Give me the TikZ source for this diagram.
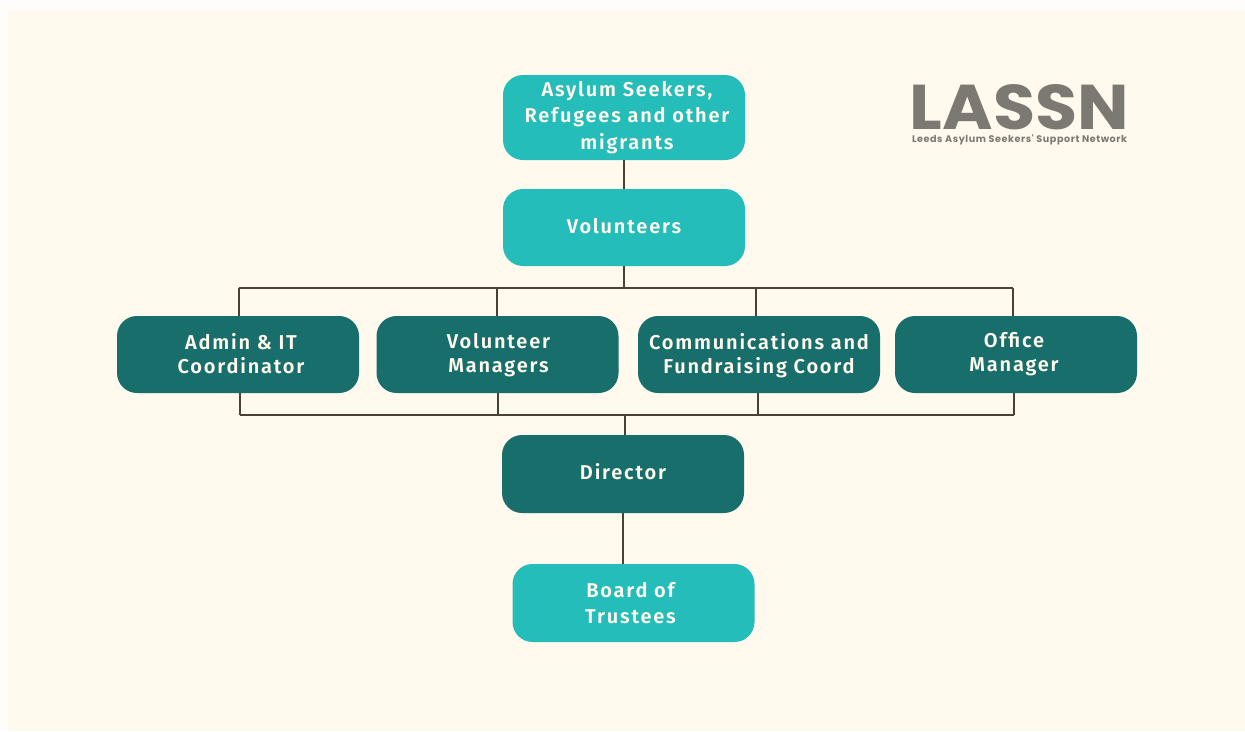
\documentclass[tikz,border=0pt]{standalone}
\usepackage{fontspec}
\usepackage{graphicx}
\setmainfont[LetterSpace=9,BoldFont={Fira Sans SemiBold}]{Fira Sans}
\newfontfamily\logofont{Poppins}
\definecolor{cream}{HTML}{FFF9EE}
\definecolor{outer}{HTML}{FEFDFB}
\definecolor{light}{HTML}{25BDB9}
\definecolor{dark}{HTML}{176E6B}
\definecolor{linec}{HTML}{4A4038}
\definecolor{logoc}{HTML}{7B7971}
% #1 = shift right, #2 = shift up, #3 = lines
\newcommand{\boxtext}[3]{\raisebox{#2}[\height][\depth]{\kern\dimexpr 2\dimexpr #1\relax\relax\begin{tabular}{@{}c@{}}#3\end{tabular}}}
\tikzset{
  x=1pt,y=-1pt,
  box/.style={rounded corners=20pt,minimum width=242pt,align=center,text=cream,inner sep=0pt},
  lightbox/.style={box,fill=light,font=\fontsize{20}{26.5}\selectfont\bfseries},
  darkbox/.style={box,fill=dark,font=\fontsize{20}{24}\selectfont\bfseries},
  link/.style={draw=linec,line width=2pt},
}
\begin{document}
\begin{tikzpicture}
\useasboundingbox (0,0) rectangle (1245,731);
\fill[outer] (0,0) rectangle (1245,731);
\fill[cream] (8,11) rectangle (1245,731);
% nodes
\node[lightbox,minimum height=85pt] (asylum) at (624,117.5) {\boxtext{3pt}{0pt}{Asylum Seekers,\\Refugees and other\\migrants}};
\node[lightbox,minimum height=77pt] (vol) at (624,227.5) {\boxtext{0pt}{-1pt}{Volunteers}};
\node[darkbox,minimum height=77pt] (admin) at (238,354.5) {\boxtext{3pt}{-2pt}{Admin \& IT\\Coordinator}};
\node[darkbox,minimum height=77pt] (mgr) at (497.5,354.5) {\boxtext{1pt}{-1pt}{Volunteer\\Managers}};
\node[darkbox,minimum height=77pt] (comm) at (759,354.5) {\boxtext{0pt}{-2pt}{Communications and\\Fundraising Coord}};
\node[darkbox,minimum height=77pt] (office) at (1016,354.5) {\boxtext{-2pt}{-0.5pt}{Office\\Manager}};
\node[darkbox,minimum height=78pt] (dir) at (623,474) {\boxtext{0pt}{-1pt}{Director}};
\node[lightbox,minimum height=78pt] (board) at (633.5,603) {\boxtext{-3pt}{-2pt}{Board of\\Trustees}};
% connector junctions
\coordinate (topbus) at (624,288);
\coordinate (t1) at (239,288);
\coordinate (t2) at (497,288);
\coordinate (t3) at (756,288);
\coordinate (t4) at (1013,288);
\coordinate (lowbus) at (625,415);
\coordinate (b1) at (240,415);
\coordinate (b2) at (498,415);
\coordinate (b3) at (758,415);
\coordinate (b4) at (1014,415);
% connectors
\draw[link] (asylum.south) -- (vol.north);
\draw[link] (vol.south) -- (topbus);
\draw[link] (t1) -- (t4);
\draw[link] (t1) -- (t1 |- admin.north);
\draw[link] (t2) -- (t2 |- mgr.north);
\draw[link] (t3) -- (t3 |- comm.north);
\draw[link] (t4) -- (t4 |- office.north);
\draw[link] (b1) -- (b4);
\draw[link] (b1) -- (b1 |- admin.south);
\draw[link] (b2) -- (b2 |- mgr.south);
\draw[link] (b3) -- (b3 |- comm.south);
\draw[link] (b4) -- (b4 |- office.south);
\draw[link] (lowbus) -- (lowbus |- dir.north);
\draw[link] (dir.south) -- (dir.south |- board.north);
% logo
\node[inner sep=0pt,text=logoc] (logo) at (1019.5,107.5) {\resizebox{219pt}{45pt}{\logofont\bfseries LASSN}};
\node[inner sep=0pt,text=logoc] (logosub) at (1019.5,139.5) {\resizebox{215pt}{!}{\logofont\bfseries\addfontfeature{LetterSpace=6}Leeds Asylum Seekers' Support Network}};
\end{tikzpicture}
\end{document}
